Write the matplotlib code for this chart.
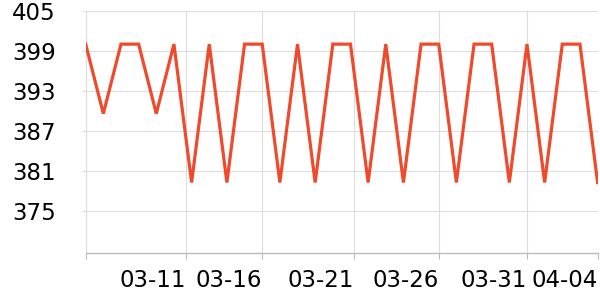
import matplotlib

matplotlib.use("Agg")
import matplotlib.pyplot as plt
from matplotlib.transforms import ScaledTranslation

# daily readings, 03-06 .. 04-04
days = ["03-06", "03-07", "03-08", "03-09", "03-10", "03-11", "03-12", "03-13", "03-14", "03-15",
        "03-16", "03-17", "03-18", "03-19", "03-20", "03-21", "03-22", "03-23", "03-24", "03-25",
        "03-26", "03-27", "03-28", "03-29", "03-30", "03-31", "04-01", "04-02", "04-03", "04-04"]
values = [400, 389.6, 400, 400, 389.6, 400, 379.3, 400, 379.3, 400,
          400, 379.3, 400, 379.3, 400, 400, 379.3, 400, 379.3, 400,
          400, 379.3, 400, 400, 379.3, 400, 379.3, 400, 400, 379.3]
tick_labels = ["", "03-11", "03-16", "03-21", "03-26", "03-31", "04-04"]
y_ticks = [375, 381, 387, 393, 399, 405]

LINE = "#ef4a2c"
GRID = "#dddddd"
AXIS = "#bbbbbb"

fig = plt.figure(figsize=(6, 3), dpi=100)
ax = fig.add_axes([0.1428, 0.1577, 0.8532, 0.8066])

x = list(range(len(days)))
ax.plot(x, values, color=LINE, linewidth=2.3, solid_joinstyle="miter", zorder=3)

ax.set_xlim(0, len(days) - 1)
ax.set_ylim(368.8, 405)
ax.set_yticks(y_ticks)
ax.set_yticklabels([str(v) for v in y_ticks])

tick_pos = [0, 5.67, 10, 15.2, 20, 25, 29]
ax.set_xticks(tick_pos)
ax.set_xticklabels(tick_labels, ha="right")
shift = ScaledTranslation(-2 / 100, 0, fig.dpi_scale_trans)
for lbl in ax.get_xticklabels():
    lbl.set_transform(lbl.get_transform() + shift)

ax.grid(True, color=GRID, linewidth=0.8, zorder=0)
ax.set_axisbelow(True)
for s in ("top", "right"):
    ax.spines[s].set_visible(False)
ax.spines["left"].set_color(GRID)
ax.spines["left"].set_linewidth(0.8)
ax.spines["bottom"].set_color(AXIS)
ax.spines["bottom"].set_linewidth(1.0)

ax.tick_params(axis="y", length=3, color=GRID, width=0.8, pad=18.5, labelsize=16.5, labelcolor="black")
ax.tick_params(axis="x", length=4, color=AXIS, width=0.8, pad=8, labelsize=16.5, labelcolor="black")

fig.savefig("out.png", dpi=100)
